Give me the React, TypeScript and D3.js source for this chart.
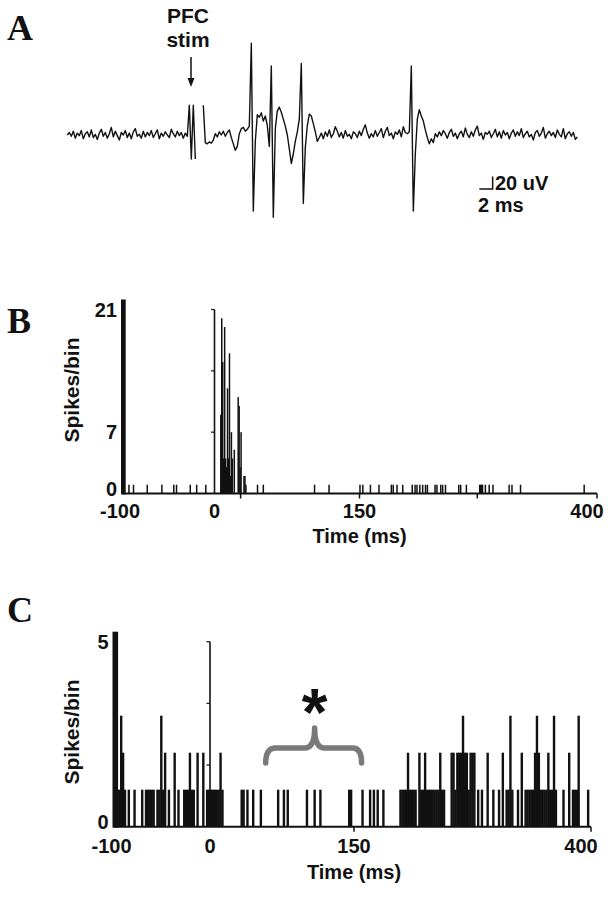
import * as d3 from 'd3';

// Panel A: extracellular trace, one sample every 0.3 ms, in uV.
// null marks the blanked part of the stimulus artefact.
const traceStepMs = 0.3;
const traceUv: (number | null)[] = [
  0, 4, -2, 6, -5, 3, -1, 7, -6, 2,
  5, -3, 8, -4, 1, -7, 3, 9, -2, 4,
  -5, 2, 12, -3, 6, -1, -8, 4, 0, 7,
  -4, 3, -6, 5, 10, -2, 1, -5, 6, -3,
  4, -1, 7, -4, 2, 8, -6, 3, -2, 5,
  0, -4, 9, 2, -3, 6, -1, 4, -5, 3,
  -2, 47, -38, 47, -38, null, null, null, 47, -12,
  -14, -11, -13, -8, 2, -3, 5, 0, 6, -2,
  4, 8, -4, -14, -24, -18, 2, 10, 12, 6,
  9, 14, 145, -120, -10, 32, 28, 35, 22, 30,
  15, -18, 109, -130, 10, 38, 44, 36, 25, 14,
  0, -22, -45, -30, -10, 5, 25, 113, -108, -20,
  15, 33, 30, 18, 5, -10, -4, 3, -6, 5,
  -2, 8, -4, 2, 13, 6, -3, 4, -5, 7,
  -2, 1, -6, 5, 2, -4, 6, -1, 9, 16,
  3, -5, 2, -3, 7, -2, 4, 10, -4, 6,
  12, -1, 3, -6, 5, 1, 8, -3, 13, 4,
  2, 5, 109, -120, -30, 25, 40, 30, 22, 8,
  -4, -14, -6, -12, 2, -3, 5, -1, 7, 2,
  -5, 4, 9, -2, 3, -6, 2, 6, -3, 11,
  1, -4, 5, -2, 8, 14, -1, 3, -7, 4,
  1, 6, -4, 2, 9, -3, 5, -5, 7, 0,
  4, -6, 3, 8, -2, 5, -1, 10, -4, 2,
  6, -3, 1, -8, 4, 7, -2, 3, 12, -5,
  2, 6, -1, 4, -4, 8, 1, -3, 10, -6,
  2, 5, -2, 4, -7, -3,
];
const scaleBarMs = 2;
const scaleBarUv = 20;

// Panel B: 1 ms bins (bin start, ms)
const bSingleBins = [
  -94, -89, -74, -58, -45, -42, -27, -20, -10,
  44, 50, 103, 118, 150, 153, 161, 170, 183, 185, 189, 195, 205, 208, 210, 213,
  216, 219, 221, 229, 231, 235, 237, 240, 254, 256, 262, 276, 277, 278, 279,
  282, 286, 290, 307, 310, 319, 386,
];
const bBurstBins = [6, 7, 8, 9, 10, 11, 12, 13, 14, 15, 16, 17, 18, 20, 24, 25, 26, 27, 30, 31, 32];
const bBurstCounts = [9, 20, 15, 4, 19, 4, 3, 12, 4, 16, 2, 7, 4, 5, 11, 10, 3, 7, 2, 2, 1];
const bMax = 21;
const bYTicks = [0, 7, 21];
const bAxisTicks = [27, 150, 274, 400];

// Panel C: 2 ms bins (bin start, ms)
const cBins = [
  -98, -96, -94, -92, -90, -86, -80, -72, -68, -66, -64, -62, -60, -56, -54, -52, -50,
  -48, -44, -38, -34, -28, -26, -24, -22, -20, -18, -14, -8, -4, -2, 0, 2, 4, 6, 8, 10, 12,
  32, 34, 38, 44, 52, 70, 76, 80, 100, 108, 114, 144, 146, 158, 166, 170, 174, 180,
  198, 200, 202, 204, 206, 208, 210, 212, 214, 218, 220, 222, 224, 226, 228, 230, 232,
  234, 236, 238, 240, 242, 244, 252, 254, 256, 258, 260, 262, 264, 266, 268, 270, 272,
  274, 276, 280, 284, 290, 296, 302, 306, 310, 312, 314, 316, 322, 326, 330, 332, 334,
  336, 338, 340, 342, 344, 346, 348, 350, 352, 354, 356, 358, 360, 362, 370, 376, 380,
  382, 384, 386, 396,
];
const cCounts = [
  1, 1, 3, 2, 1, 1, 1, 1, 1, 1, 1, 1, 1, 1, 1, 3, 1,
  2, 1, 2, 1, 1, 1, 1, 2, 1, 1, 2, 2, 1, 1, 1, 1, 1, 1, 1, 2, 1,
  1, 1, 1, 1, 1, 1, 1, 1, 1, 1, 1, 1, 1, 1, 1, 1, 1, 1,
  1, 1, 1, 1, 2, 1, 1, 1, 1, 2, 1, 1, 2, 1, 1, 1, 1,
  1, 1, 1, 2, 1, 1, 2, 2, 1, 2, 2, 2, 3, 2, 2, 1, 2,
  2, 2, 1, 1, 2, 1, 1, 2, 1, 1, 3, 1, 1, 2, 1, 1, 1,
  1, 1, 2, 3, 2, 1, 1, 1, 1, 2, 1, 1, 3, 1, 1, 2, 1,
  1, 1, 3, 1,
];
const cMax = 5;
const cYTicks = [0, 5];
const cAxisTicks = [150, 400];
const silentWindow = [58, 109, 158]; // start, middle, end (ms)

const xTickLabels = [-100, 0, 150, 400];

const sans = 'Liberation Sans, Arial, sans-serif';
const serif = 'Liberation Serif, Times New Roman, serif';

type Bar = { t: number; n: number };

function Histogram({ x, y, bars, bin, max, yTicks, axisTicks, labelBase, titleBase, yLabelCenter, barWidth, thick }:
  { x: d3.ScaleLinear<number, number>; y: d3.ScaleLinear<number, number>; bars: Bar[]; bin: number; max: number;
    yTicks: number[]; axisTicks: number[]; labelBase: number; titleBase: number; yLabelCenter: number; barWidth: number; thick: number }) {
  const y0 = y(0);
  const x0 = x(-100);
  const x1 = x(400);
  const stimTicks = [max / 3, (2 * max) / 3, max];
  return (
    <g>
      {bars.map((d, i) => {
        const w = x(d.t + bin) - x(d.t);
        const ww = Math.max(w, barWidth);
        return <rect key={i} x={x(d.t) + (w - ww) / 2} y={y(d.n)} width={ww} height={y0 - y(d.n)} fill="#111" />;
      })}
      {/* stimulus marker at time 0 */}
      <line x1={x(0)} x2={x(0)} y1={y0} y2={y(max)} stroke="#111" strokeWidth={1.6} />
      {stimTicks.map((v, i) => (
        <line key={i} x1={x(0) - 3.5} x2={x(0)} y1={y(v)} y2={y(v)} stroke="#111" strokeWidth={1.2} />
      ))}
      {/* thick left axis */}
      <rect x={x0 - 2} y={y(max) - 10} width={thick} height={y0 - y(max) + 11} fill="#111" />
      <line x1={x0} x2={x1} y1={y0} y2={y0} stroke="#111" strokeWidth={2} />
      {axisTicks.map((v, i) => (
        <line key={i} x1={x(v)} x2={x(v)} y1={y0} y2={y0 + 5} stroke="#111" strokeWidth={1.5} />
      ))}
      {yTicks.map((v) => (
        <text key={v} x={x0 - 6} y={y(v) + (v === 0 ? 2.5 : 7)} textAnchor="end" fontFamily={sans} fontWeight="bold" fontSize={20} fill="#111">{v}</text>
      ))}
      {xTickLabels.map((v) => (
        <text key={v} x={x(v) + (v === 400 ? -10 : v === -100 ? -3 : 0)} y={labelBase} textAnchor="middle"
          fontFamily={sans} fontWeight="bold" fontSize={20} fill="#111">{v}</text>
      ))}
      <text x={x(150)} y={titleBase} textAnchor="middle" fontFamily={sans} fontWeight="bold" fontSize={20} fill="#111">Time (ms)</text>
      <text transform={`translate(78.5, ${yLabelCenter}) rotate(-90)`} textAnchor="middle" fontFamily={sans}
        fontWeight="bold" fontSize={21} fill="#111">Spikes/bin</text>
    </g>
  );
}

export default function App() {
  // Panel A scales
  const xA = d3.scaleLinear().domain([0, 1]).range([67.3, 67.3 + 6.667]);
  const yA = d3.scaleLinear().domain([0, 20]).range([135, 135 - 12.66]);
  const trace = d3.line<number | null>()
    .defined((d) => d !== null)
    .x((_, i) => xA(i * traceStepMs))
    .y((d) => yA(d as number));

  // Panel B scales
  const xB = d3.scaleLinear().domain([-100, 0, 150, 400]).range([123, 214.5, 359.5, 597]);
  const yB = d3.scaleLinear().domain([0, bMax]).range([493.5, 309.5]);
  const bBars: Bar[] = bSingleBins.map((t) => ({ t, n: 1 }))
    .concat(bBurstBins.map((t, i) => ({ t, n: bBurstCounts[i] })));

  // Panel C scales
  const xC = d3.scaleLinear().domain([-100, 0, 150, 400]).range([114.5, 210, 354, 591]);
  const yC = d3.scaleLinear().domain([0, cMax]).range([826.7, 641.7]);
  const cBars: Bar[] = cBins.map((t, i) => ({ t, n: cCounts[i] }));

  // curly brace over the silent period
  const [bl, bm, br] = silentWindow.map((t) => xC(t));
  const yEnd = 763, yMid = 748, yTip = 728;
  const brace = d3.path();
  brace.moveTo(bl, yEnd);
  brace.quadraticCurveTo(bl, yMid, bl + 10, yMid);
  brace.lineTo(bm - 10, yMid);
  brace.quadraticCurveTo(bm, yMid, bm, yTip);
  brace.quadraticCurveTo(bm, yMid, bm + 10, yMid);
  brace.lineTo(br - 9, yMid);
  brace.quadraticCurveTo(br, yMid, br, yEnd);

  const barX = xA(63.8);
  const barY = yA(-85.5);

  return (
    <svg width={613} height={900} style={{ position: 'absolute', left: 0, top: 0, background: '#fff' }}>
      <rect width={613} height={900} fill="#fff" />
      {/* Panel A */}
      <text x={7} y={40} fontFamily={serif} fontWeight="bold" fontSize={36} fill="#111">A</text>
      <text x={188} y={23} textAnchor="middle" fontFamily={sans} fontWeight="bold" fontSize={21} fill="#111">PFC</text>
      <text x={188} y={46.5} textAnchor="middle" fontFamily={sans} fontWeight="bold" fontSize={21} fill="#111">stim</text>
      <line x1={191} x2={191} y1={57} y2={80} stroke="#111" strokeWidth={1.5} />
      <path d="M187.5,78 L194.5,78 L191,87 Z" fill="#111" />
      <path d={trace(traceUv) ?? ''} fill="none" stroke="#111" strokeWidth={1.4} strokeLinejoin="round" />
      <path d={`M${barX - (xA(scaleBarMs) - xA(0))},${barY} L${barX},${barY} L${barX},${barY - (yA(0) - yA(scaleBarUv))}`}
        fill="none" stroke="#111" strokeWidth={1.5} />
      <text x={495} y={190} fontFamily={sans} fontWeight="bold" fontSize={20} fill="#111">20 uV</text>
      <text x={478} y={212} fontFamily={sans} fontWeight="bold" fontSize={20} fill="#111">2 ms</text>

      {/* Panel B */}
      <text x={7} y={333} fontFamily={serif} fontWeight="bold" fontSize={36} fill="#111">B</text>
      <Histogram x={xB} y={yB} bars={bBars} bin={1} max={bMax} yTicks={bYTicks} axisTicks={bAxisTicks}
        labelBase={518} titleBase={543} yLabelCenter={390} barWidth={1.5} thick={4.7} />

      {/* Panel C */}
      <text x={7} y={622} fontFamily={serif} fontWeight="bold" fontSize={36} fill="#111">C</text>
      <Histogram x={xC} y={yC} bars={cBars} bin={2} max={cMax} yTicks={cYTicks} axisTicks={cAxisTicks}
        labelBase={853} titleBase={879} yLabelCenter={732} barWidth={2.4} thick={5.6} />
      <path d={brace.toString()} fill="none" stroke="#7a7a7a" strokeWidth={5.5} strokeLinecap="round" strokeLinejoin="round" />
      <text x={bm} y={735} textAnchor="middle" fontFamily={sans} fontWeight="bold" fontSize={66} fill="#111">*</text>
    </svg>
  );
}
